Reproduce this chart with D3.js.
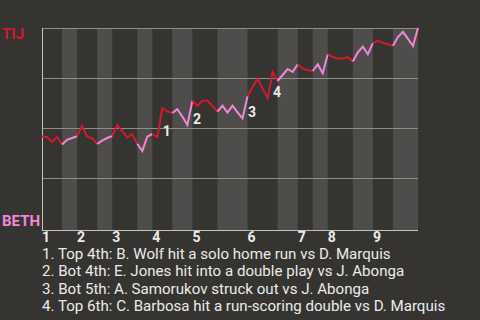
<!DOCTYPE html>
<html>
<head>
<meta charset="utf-8">
<script src="https://cdn.jsdelivr.net/npm/d3@7"></script>
<style>
  html, body { margin: 0; padding: 0; background: #363430; }
  svg { display: block; }
</style>
</head>
<body>
<svg id="chart" width="480" height="320"></svg>
<script>
// Win probability for TIJ (percent) after each play, play 0 = first pitch.
const winProb = [
  45.7, 45.5, 43.1, 45.5, 41.8, 44.1, 45.0, 45.9, 51.1, 45.7,
  44.9, 42.0, 43.7, 45.0, 46.0, 51.5, 48.5, 45.2, 47.0, 42.1,
  38.5, 45.7, 47.0, 45.5, 59.8, 58.3, 57.5, 59.4, 55.7, 51.5,
  63.6, 61.1, 63.6, 63.6, 61.1, 58.2, 61.2, 57.7, 61.2, 57.8,
  54.8, 65.9, 70.5, 74.6, 69.7, 64.9, 78.0, 73.5, 76.5, 79.5,
  78.0, 81.8, 79.8, 78.9, 78.5, 81.8, 77.4, 86.9, 85.5, 84.6,
  84.7, 85.4, 83.3, 87.8, 90.7, 86.9, 92.4, 93.6, 92.6, 91.9,
  91.1, 95.5, 98.1, 94.6, 91.0, 100
];

// Play index at which each half-inning starts (top 1st, bottom 1st, ...), plus the final play.
const halfStarts = [0, 4, 7, 11, 14, 19, 22, 26, 30, 35, 41, 47, 51, 54, 57, 62, 66, 70, 75];

// Inning numbers shown under the start of each top half.
const inningLabels = ["1", "2", "3", "4", "5", "6", "7", "8", "9"];

// Key plays: index of the play and its description.
const keyPlayIndex = [24, 30, 41, 46];
const keyPlayText = [
  "Top 4th: B. Wolf hit a solo home run vs D. Marquis",
  "Bot 4th: E. Jones hit into a double play vs J. Abonga",
  "Bot 5th: A. Samorukov struck out vs J. Abonga",
  "Top 6th: C. Barbosa hit a run-scoring double vs D. Marquis"
];

const teams = ["TIJ", "BETH"];
const yTicks = [25, 50, 75, 100];

const colors = { away: "#d2192d", home: "#f286da", band: "#4e4d4b",
                 grid: "#8e8d8a", axis: "#c4c3c0", text: "#ebebeb" };

const svg = d3.select("#chart");
const plot = { left: 42, right: 418, top: 28, bottom: 228, axis: 230 };

const x = d3.scaleLinear().domain([0, winProb.length - 1]).range([plot.left, plot.right]);
const y = d3.scaleLinear().domain([0, 100]).range([plot.bottom, plot.top]);

// Shaded bands for the bottom halves of each inning
const halves = d3.range(halfStarts.length - 1).map(k => ({
  k, start: halfStarts[k], end: halfStarts[k + 1], isTop: k % 2 === 0
}));

svg.append("g").selectAll("rect")
  .data(halves.filter(h => !h.isTop))
  .join("rect")
  .attr("x", d => x(d.start))
  .attr("width", d => x(d.end) - x(d.start))
  .attr("y", plot.top)
  .attr("height", plot.axis - plot.top)
  .attr("fill", colors.band);

// Horizontal gridlines
svg.append("g").selectAll("line")
  .data(yTicks)
  .join("line")
  .attr("x1", plot.left).attr("x2", plot.right)
  .attr("y1", d => Math.round(y(d)) + 0.5)
  .attr("y2", d => Math.round(y(d)) + 0.5)
  .attr("stroke", colors.grid)
  .attr("stroke-width", 1);

// Axis lines
svg.append("line")
  .attr("x1", plot.left + 0.5).attr("x2", plot.left + 0.5)
  .attr("y1", plot.top).attr("y2", plot.axis + 0.5)
  .attr("stroke", colors.axis);
svg.append("line")
  .attr("x1", plot.left).attr("x2", plot.right)
  .attr("y1", plot.axis + 0.5).attr("y2", plot.axis + 0.5)
  .attr("stroke", colors.axis);

// Win probability line, one piece per half-inning
const line = d3.line().x(d => x(d.i)).y(d => y(d.v));
svg.append("g").selectAll("path")
  .data(halves)
  .join("path")
  .attr("d", h => line(d3.range(h.start, h.end + 1).map(i => ({ i, v: winProb[i] }))))
  .attr("fill", "none")
  .attr("stroke", h => h.isTop ? colors.away : colors.home)
  .attr("stroke-width", 2)
  .attr("stroke-linejoin", "miter");

// Key play markers
svg.append("g").selectAll("text")
  .data(keyPlayIndex)
  .join("text")
  .attr("x", d => x(d) + 0.5)
  .attr("y", d => y(winProb[d - 1]) - 1.5)
  .attr("font-family", "Roboto, sans-serif")
  .attr("font-weight", "bold")
  .attr("font-size", 14)
  .attr("fill", colors.text)
  .text((d, i) => i + 1);

// Inning numbers
svg.append("g").selectAll("text")
  .data(inningLabels)
  .join("text")
  .attr("x", (d, i) => x(halfStarts[i * 2]))
  .attr("y", 242)
  .attr("font-family", "Roboto, sans-serif")
  .attr("font-weight", "bold")
  .attr("font-size", 14)
  .attr("fill", colors.text)
  .text(d => d);

// Team labels at the ends of the scale
svg.append("text")
  .attr("x", 2).attr("y", 39)
  .attr("font-family", "Roboto, sans-serif")
  .attr("font-weight", "bold")
  .attr("font-size", 15)
  .attr("fill", colors.away)
  .text(teams[0]);
svg.append("text")
  .attr("x", 2).attr("y", 225.5)
  .attr("font-family", "Roboto, sans-serif")
  .attr("font-weight", "bold")
  .attr("font-size", 15)
  .attr("fill", colors.home)
  .text(teams[1]);

// Key play descriptions
svg.append("g").selectAll("text")
  .data(keyPlayText)
  .join("text")
  .attr("x", 42)
  .attr("y", (d, i) => 258.5 + i * 17.6)
  .attr("font-family", "Roboto, sans-serif")
  .attr("font-size", 15.1)
  .attr("fill", colors.text)
  .text((d, i) => `${i + 1}. ${d}`);
</script>
</body>
</html>
